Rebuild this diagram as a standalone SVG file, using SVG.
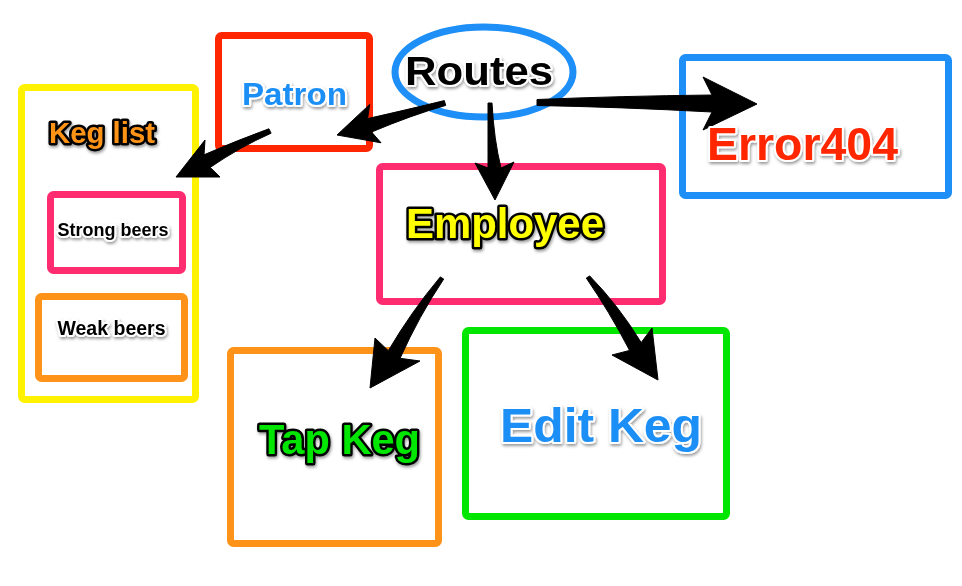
<svg xmlns="http://www.w3.org/2000/svg" width="962" height="586" viewBox="0 0 962 586">
<defs>
<filter id="sh" x="-10%" y="-20%" width="120%" height="150%">
<feDropShadow dx="1" dy="2" stdDeviation="1.5" flood-color="#000" flood-opacity="0.4"/>
</filter>
<style>
.box{fill:none;stroke-width:7;stroke-linejoin:round}
.t{font-family:"Liberation Sans",Arial,sans-serif;font-weight:bold;paint-order:stroke;stroke-linejoin:round;filter:url(#sh)}
.wo{stroke:#fff;stroke-width:4}
.bo{stroke:#000;stroke-width:5}
.arrow{fill:#000;stroke:#000;stroke-width:1;stroke-linejoin:round}
</style>
</defs>
<rect width="962" height="586" fill="#fff"/>

<g id="routes">
<ellipse cx="484" cy="72" rx="89" ry="45" fill="none" stroke="#1d8ff7" stroke-width="7"/>
<text class="t wo" x="405" y="85" font-size="41" textLength="148" lengthAdjust="spacingAndGlyphs" fill="#000" stroke-width="3">Routes</text>
</g>

<g id="patron">
<rect class="box" x="218.5" y="35.5" width="151" height="113" rx="3" stroke="#ff2600"/>
<text class="t wo" x="242" y="105" font-size="31" textLength="105" lengthAdjust="spacingAndGlyphs" fill="#1d8ff7">Patron</text>
</g>

<g id="keglist">
<rect class="box" x="21.5" y="87.5" width="174" height="312" rx="3" stroke="#fff200"/>
<text class="t bo" x="49" y="143" font-size="29" textLength="106" lengthAdjust="spacingAndGlyphs" fill="#ff9319">Keg list</text>
</g>

<g id="strong">
<rect class="box" x="50.5" y="194.5" width="132" height="76" rx="3" stroke="#ff2d6f"/>
<text class="t wo" x="113" y="236" font-size="18" text-anchor="middle" fill="#000">Strong beers</text>
</g>

<g id="weak">
<rect class="box" x="38.5" y="296.5" width="146" height="82" rx="3" stroke="#ff9319"/>
<text class="t wo" x="111.5" y="335" font-size="19.5" text-anchor="middle" fill="#000">Weak beers</text>
</g>

<g id="employee">
<rect class="box" x="379.5" y="166.5" width="283" height="135" rx="3" stroke="#ff2d6f"/>
<text class="t bo" x="406" y="238" font-size="42" textLength="198" lengthAdjust="spacingAndGlyphs" fill="#ffff00">Employee</text>
</g>

<g id="error404">
<rect class="box" x="682.5" y="57.5" width="266" height="138" rx="3" stroke="#1d8ff7"/>
</g>

<g id="tapkeg">
<rect class="box" x="230.5" y="350.5" width="208" height="193" rx="3" stroke="#ff9319"/>
<text class="t bo" x="259" y="454" font-size="43" textLength="161" lengthAdjust="spacingAndGlyphs" fill="#00e600">Tap Keg</text>
</g>

<g id="editkeg">
<rect class="box" x="465.5" y="330.5" width="261" height="186" rx="3" stroke="#00e600"/>
<text class="t wo" x="500" y="442" font-size="49" textLength="202" lengthAdjust="spacingAndGlyphs" fill="#1d8ff7">Edit Keg</text>
</g>

<g id="connectors">
<path class="arrow" d="M444.3,100.6 Q410,109 367.6,118.6 L369.7,104.4 L337,135 L381,142.8 L371.6,132 Q412,115 445.7,105.4 Z"/>
<path class="arrow" d="M268.9,128.8 Q238,140 204,154.8 L205,140 L176,177 L220,177 L210.2,167.4 Q240,147 271.1,133.2 Z"/>
<path class="arrow" d="M488,103 Q488,140 488,168 L475,163 L495,200 L514,162 L501,168 Q494,140 492,103 Z"/>
<path class="arrow" d="M537,99.5 Q620,96 712,95 L703,77 L757,104 L703,130 L712,112 Q620,107 537,105.5 Z"/>
<path class="arrow" d="M440.3,276.9 Q411,312 388.3,350.7 L375,338 L370,388 L420,361 L400.1,358.3 Q419,316 443.7,279.1 Z"/>
<path class="arrow" d="M589.7,275.9 Q619,306 641.2,342.6 L652,328 L658,380 L612,355 L629.6,350.4 Q609,311 586.3,278.1 Z"/>
</g>

<g id="error404-label">
<text class="t wo" x="707" y="160" font-size="46" textLength="191" lengthAdjust="spacingAndGlyphs" fill="#ff2600">Error404</text>
</g>
</svg>
